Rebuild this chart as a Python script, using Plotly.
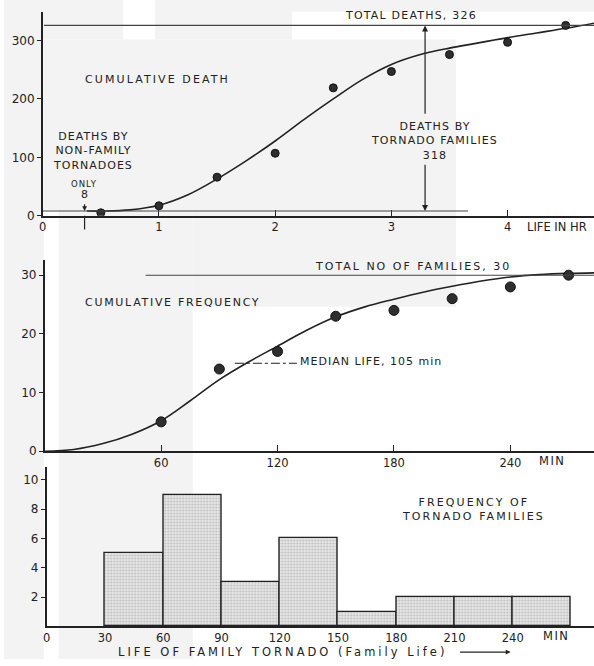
import plotly.graph_objects as go

W, H = 594, 666
INK = "#222222"
FONT = "DejaVu Sans"

# ---- Panel 1: cumulative deaths (hours) ----
death_hr = [0.5, 1.0, 1.5, 2.0, 2.5, 3.0, 3.5, 4.0, 4.5]
death_cum = [5, 17, 66, 107, 219, 247, 276, 297, 326]
death_fit_hr = [0.38, 0.5, 0.75, 1.0, 1.25, 1.5, 1.75, 2.0, 2.25, 2.5, 2.75, 3.0, 3.25, 3.5, 3.75, 4.0, 4.25, 4.5, 4.75]
death_fit = [8, 8, 10, 18, 36, 63, 94, 128, 165, 200, 233, 259, 276, 287, 296, 305, 313, 321, 330]
TOTAL_DEATHS = 326
NONFAMILY_DEATHS = 8
FAMILY_DEATHS = 318

# ---- Panel 2: cumulative frequency of families (minutes) ----
freq_min = [60, 90, 120, 150, 180, 210, 240, 270]
freq_cum = [5, 14, 17, 23, 24, 26, 28, 30]
freq_fit_min = [0, 15, 30, 45, 60, 75, 90, 105, 120, 135, 150, 165, 180, 195, 210, 225, 240, 255, 270, 285]
freq_fit = [0, 0.3, 1.3, 2.9, 5.2, 8.6, 12.2, 15.2, 17.9, 20.6, 22.9, 24.6, 25.9, 27.1, 28.1, 29.0, 29.7, 30.1, 30.3, 30.4]
TOTAL_FAMILIES = 30
MEDIAN_LIFE = 105

# ---- Panel 3: histogram of family life ----
bin_left = [30, 60, 90, 120, 150, 180, 210, 240]
bin_count = [5, 9, 3, 6, 1, 2, 2, 2]
BIN_W = 30

def px(x):
    return x / W

def py(y):
    return 1 - y / H

fig = go.Figure()

# panel 1
fig.add_trace(go.Scatter(x=death_fit_hr, y=death_fit, mode="lines",
                         line=dict(color=INK, width=1.6, shape="spline", smoothing=1.0),
                         xaxis="x", yaxis="y", hoverinfo="skip"))
fig.add_trace(go.Scatter(x=death_hr, y=death_cum, mode="markers",
                         marker=dict(size=8, color="#2e2e2e", line=dict(color="#111111", width=1)),
                         xaxis="x", yaxis="y"))
# panel 2
fig.add_trace(go.Scatter(x=freq_fit_min, y=freq_fit, mode="lines",
                         line=dict(color=INK, width=1.6, shape="spline", smoothing=1.0),
                         xaxis="x2", yaxis="y2", hoverinfo="skip"))
fig.add_trace(go.Scatter(x=freq_min, y=freq_cum, mode="markers",
                         marker=dict(size=10, color="#2e2e2e", line=dict(color="#111111", width=1)),
                         xaxis="x2", yaxis="y2"))
# panel 3
fig.add_trace(go.Bar(x=[b + BIN_W / 2 for b in bin_left], y=bin_count, width=BIN_W,
                     marker=dict(color="#dcdcdc", line=dict(color=INK, width=1.4),
                                 pattern=dict(shape=".", fgcolor="#8a8a8a", bgcolor="#e6e6e6",
                                              size=3, solidity=0.3)),
                     xaxis="x3", yaxis="y3"))

axis_common = dict(showline=True, linecolor=INK, linewidth=1.6, showgrid=False, zeroline=False,
                   tickcolor=INK)
xfont = dict(family=FONT, size=11.5, color=INK)
yfont = dict(family=FONT, size=12, color=INK)

# x scale: about 117 px per hour in every panel
fig.update_layout(
    width=W, height=H, margin=dict(l=0, r=0, t=0, b=0),
    paper_bgcolor="white", plot_bgcolor="rgba(0,0,0,0)", showlegend=False,
    font=dict(family=FONT, color=INK),
    xaxis=dict(domain=[px(39), 1], range=[0, (W - 39) / 117], anchor="y", tickfont=xfont,
               tickvals=[0, 1, 2, 3, 4], ticks="inside", ticklen=6, tickwidth=1.3, **axis_common),
    yaxis=dict(domain=[py(218), py(12)], range=[0, 206 / 0.59], anchor="x", tickfont=yfont,
               tickvals=[0, 100, 200, 300], ticks="outside", ticklen=4, tickwidth=1.3, **axis_common),
    xaxis2=dict(domain=[px(41), 1], range=[0, (W - 41) / 117.2 * 60], anchor="y2", tickfont=xfont,
                tickvals=[60, 120, 180, 240], ticks="inside", ticklen=6, tickwidth=1.3, **axis_common),
    yaxis2=dict(domain=[py(456), py(263)], range=[0, 193 / 5.93], anchor="x2", tickfont=yfont,
                tickvals=[0, 10, 20, 30], ticks="outside", ticklen=4, tickwidth=1.3, **axis_common),
    xaxis3=dict(domain=[px(43), 1], range=[0, (W - 43) / 117.3 * 60], anchor="y3", tickfont=xfont,
                tickvals=[0, 30, 60, 90, 120, 150, 180, 210, 240], ticks="", **axis_common),
    yaxis3=dict(domain=[py(633), py(472)], range=[0, 161 / 14.8], anchor="x3", tickfont=yfont,
                tickvals=[2, 4, 6, 8, 10], ticks="outside", ticklen=4, tickwidth=1.3, **axis_common),
    bargap=0,
)

shapes = []
# faint grey bands of the printed page
for x0, y0, x1, y1 in [(0, 0, 40, 666), (0, 0, 120, 40), (152, 0, 290, 40), (290, 0, 594, 12),
                       (40, 40, 455, 212), (55, 212, 190, 666), (190, 212, 455, 310)]:
    shapes.append(dict(type="rect", xref="paper", yref="paper", x0=px(x0), x1=px(x1), y0=py(y1), y1=py(y0),
                       fillcolor="#f3f3f3", line=dict(width=0), layer="below"))
# total deaths and non-family deaths reference lines
shapes.append(dict(type="line", xref="x", yref="y", x0=0.01, x1=(W - 39) / 117, y0=TOTAL_DEATHS, y1=TOTAL_DEATHS,
                   line=dict(color="#444444", width=1.1)))
shapes.append(dict(type="line", xref="x", yref="y", x0=0.0, x1=3.66, y0=NONFAMILY_DEATHS, y1=NONFAMILY_DEATHS,
                   line=dict(color="#444444", width=1.1)))
# "only 8" marker below the axis
shapes.append(dict(type="line", xref="x", yref="paper", x0=0.36, x1=0.36, y0=py(232), y1=py(218),
                   line=dict(color=INK, width=1.2)))
# total families line
shapes.append(dict(type="line", xref="x2", yref="y2", x0=52, x1=(W - 41) / 117.2 * 60,
                   y0=TOTAL_FAMILIES, y1=TOTAL_FAMILIES, line=dict(color="#444444", width=1.1)))
# median life dash-dot line
shapes.append(dict(type="line", xref="x2", yref="y2", x0=98, x1=130, y0=15, y1=15,
                   line=dict(color=INK, width=1.1, dash="dashdot")))
fig.update_layout(shapes=shapes)

ann = []
def label(x, y, text, size=11, spacing=0.0, xanchor="center"):
    if spacing:
        text = "<br>".join(f"<span style='letter-spacing:{spacing}px'>{t}</span>" for t in text.split("<br>"))
    ann.append(dict(xref="paper", yref="paper", x=px(x), y=py(y), text=text, showarrow=False,
                    xanchor=xanchor, yanchor="middle", font=dict(family=FONT, size=size, color=INK)))

label(155, 80, "CUMULATIVE DEATH", spacing=2.1)
label(410, 16, f"TOTAL DEATHS, {TOTAL_DEATHS}", spacing=1.2)
label(90, 153, "DEATHS BY<br>NON-FAMILY<br>TORNADOES", size=11, spacing=1.0)
label(81, 186, "ONLY", size=8.5, spacing=1.0)
label(81, 197, str(NONFAMILY_DEATHS), size=11)
label(433, 142, f"DEATHS BY<br>TORNADO FAMILIES<br>{FAMILY_DEATHS}", size=11, spacing=1.1)
label(525, 229, "LIFE IN HR", size=11.5, xanchor="left")
label(170, 306, "CUMULATIVE FREQUENCY", spacing=1.7)
label(412, 269, f"TOTAL NO OF FAMILIES, {TOTAL_FAMILIES}", spacing=2.0)
label(296, 365, f"MEDIAN LIFE, {MEDIAN_LIFE} min", spacing=1.0, xanchor="left")
label(537, 466, "MIN", size=11.5, spacing=1.5, xanchor="left")
label(541, 643, "MIN", size=11.5, spacing=1.5, xanchor="left")
label(473, 515, "FREQUENCY OF<br>TORNADO FAMILIES", spacing=2.1)
label(113, 659, "LIFE OF FAMILY TORNADO (Family Life)", size=11.5, spacing=3.0, xanchor="left")

# arrows for family deaths
ann.append(dict(xref="x", yref="y", x=3.29, y=TOTAL_DEATHS, axref="x", ayref="y", ax=3.29, ay=172,
                showarrow=True, arrowhead=2, arrowsize=1, arrowwidth=1.2, arrowcolor=INK, text=""))
ann.append(dict(xref="x", yref="y", x=3.29, y=NONFAMILY_DEATHS, axref="x", ayref="y", ax=3.29, ay=90,
                showarrow=True, arrowhead=2, arrowsize=1, arrowwidth=1.2, arrowcolor=INK, text=""))
# arrow pointing at the non-family line
ann.append(dict(xref="x", yref="y", x=0.36, y=NONFAMILY_DEATHS, axref="x", ayref="y", ax=0.36, ay=22,
                showarrow=True, arrowhead=2, arrowsize=0.8, arrowwidth=1.2, arrowcolor=INK, text=""))
# arrow after the axis title
ann.append(dict(xref="paper", yref="paper", x=px(510), y=py(659), axref="pixel", ayref="pixel", ax=-52, ay=0,
                showarrow=True, arrowhead=2, arrowsize=0.8, arrowwidth=1.2, arrowcolor=INK, text=""))
fig.update_layout(annotations=ann)

fig.write_html("out.html")
